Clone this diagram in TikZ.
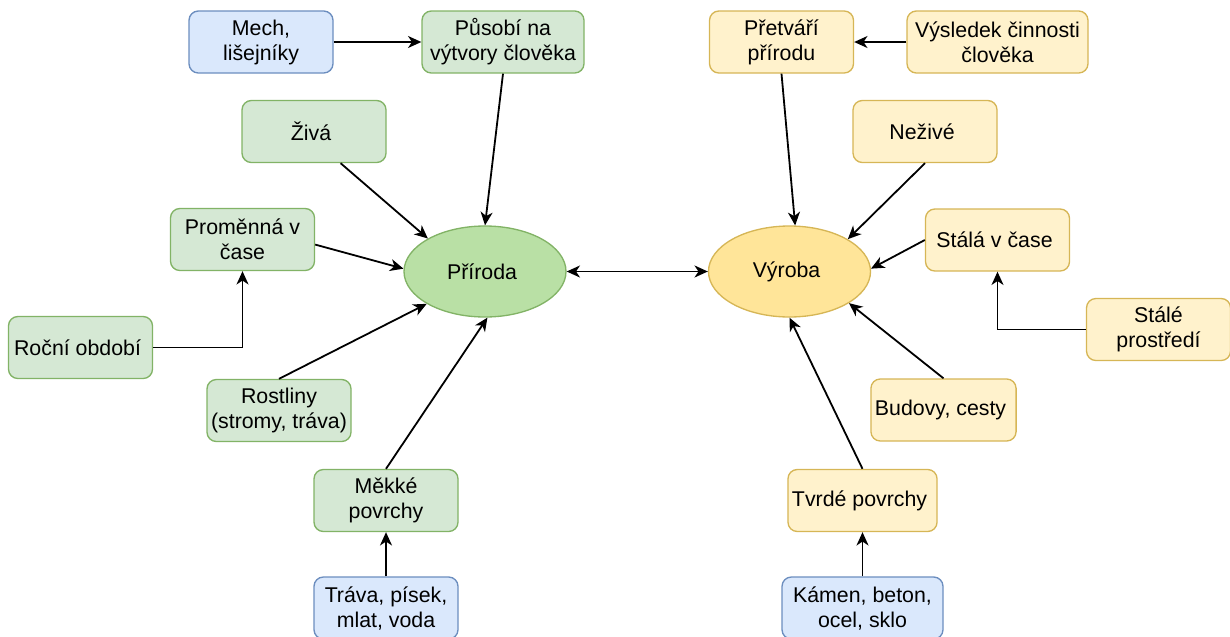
\documentclass[tikz,border=0pt]{standalone}
\usepackage{fontspec}
\setmainfont{Liberation Sans}
\usetikzlibrary{shapes.geometric,arrows.meta}
\definecolor{greenline}{HTML}{82B366}
\definecolor{greenfill}{HTML}{D5E8D4}
\definecolor{blueline}{HTML}{6C8EBF}
\definecolor{bluefill}{HTML}{DAE8FC}
\definecolor{yellowline}{HTML}{D6B656}
\definecolor{yellowfill}{HTML}{FFF2CC}
\definecolor{prirodafill}{HTML}{B9E0A5}
\definecolor{vyrobafill}{HTML}{FFE599}
\tikzset{
  basic box/.style = {
    shape = rectangle,
    align = center,
    draw  = #1line,
    fill  = #1fill,
    line width = 1pt,
    inner xsep = 3pt,
    minimum width = 108pt,
    minimum height = 46.5pt,
    rounded corners = 7pt},
  basic ellipse/.style 2 args = {
    shape = ellipse,
    draw  = #1line,
    fill  = #2,
    line width = 1pt,
    inner sep = 0pt,
    minimum width = 121.5pt,
    minimum height = 68.25pt}
}

\begin{document}
\begin{tikzpicture}[x = 0.75pt, y = -0.75pt, line width = 1.35pt,
    nodes = {align = center, font = \fontsize{16}{18.75}\selectfont},
    >={Stealth[length = 10pt, width = 9pt, inset = 3pt]}]
  \useasboundingbox (0,0) rectangle (1230,636);
  % ellipses in the middle
  \node[basic ellipse = {green}{prirodafill}] (priroda) at (485,271.5) { Příroda };
  \node[basic ellipse = {yellow}{vyrobafill}] (vyroba) at (789.5,271.5) { Výroba };
  % left side
  \node[basic box = blue] (mech) at (261,42) { Mech, \\ lišejníky };
  \node[basic box = green, minimum width = 121.5pt] (pusobi) at (503,42) { Působí na \\ výtvory člověka };
  \node[basic box = green] (ziva) at (314,131.5) { Živá };
  \node[basic box = green] (promenna) at (242.5,239.5) { Proměnná v \\ čase };
  \node[basic box = green] (rocni) at (80.5,347.5) { Roční období };
  \node[basic box = green] (rostliny) at (279,410.5) { Rostliny \\ (stromy, tráva) };
  \node[basic box = green] (mekke) at (386,500.5) { Měkké \\ povrchy };
  \node[basic box = blue] (trava) at (386,608) { Tráva, písek, \\ mlat, voda };
  % right side
  \node[basic box = yellow] (pretvari) at (781.5,42) { Přetváří \\ přírodu };
  \node[basic box = yellow, minimum width = 135.75pt] (vysledek) at (997.5,42) { Výsledek činnosti \\ člověka };
  \node[basic box = yellow] (nezive) at (925,131.5) { Neživé };
  \node[basic box = yellow] (stala) at (997.5,240) { Stálá v čase };
  \node[basic box = yellow] (staleprostredi) at (1158.5,329.5) { Stálé \\ prostředí };
  \node[basic box = yellow] (budovy) at (943.5,410) { Budovy, cesty };
  \node[basic box = yellow] (tvrde) at (862.5,500.5) { Tvrdé povrchy };
  \node[basic box = blue, minimum width = 120.75pt] (kamen) at (862.5,608) { Kámen, beton, \\ ocel, sklo };
  \draw[<->] (priroda) -- (vyroba);
  \draw[->] (mech) -- (pusobi);
  \draw[->] (pusobi.south) -- (priroda.90);
  \draw[->] (ziva.-50) -- (priroda.150);
  \draw[->] (promenna.-4) -- (priroda.178);
  \draw[->] (rocni.east) -| (promenna.south);
  \draw[->] (rostliny.north) -- (priroda.209);
  \draw[->] (mekke.north) -- (priroda.273);
  \draw[->] (trava) -- (mekke);
  \draw[->] (vysledek) -- (pretvari);
  \draw[->] (pretvari.south) -- (vyroba.83);
  \draw[->] (nezive.south) -- (vyroba.29);
  \draw[->] (stala.west) -- (vyroba.2);
  \draw[->] (staleprostredi.west) -| (stala.south);
  \draw[->] (budovy.north) -- (vyroba.332);
  \draw[->] (tvrde.north) -- (vyroba.270);
  \draw[->] (kamen) -- (tvrde);
\end{tikzpicture}
\end{document}
